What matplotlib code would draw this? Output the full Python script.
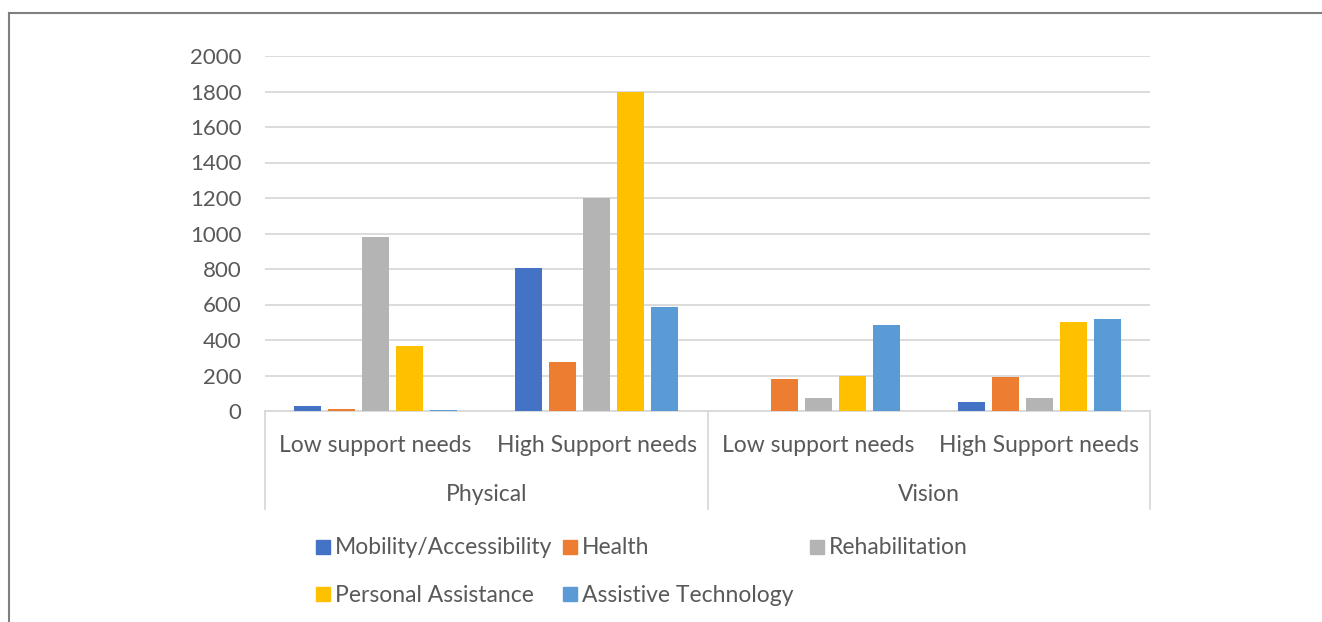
import matplotlib
matplotlib.use("Agg")
import matplotlib.pyplot as plt
from matplotlib.patches import Rectangle
from matplotlib.lines import Line2D
import numpy as np

groups = ["Physical", "Vision"]
subcats = ["Low support needs", "High Support needs", "Low support needs", "High Support needs"]
series = ["Mobility/Accessibility", "Health", "Rehabilitation", "Personal Assistance", "Assistive Technology"]
colors = ["#4472C4", "#ED7D31", "#B4B4B4", "#FFC000", "#5B9BD5"]
mobility = [28, 805, 0, 52]
health = [10, 276, 178, 193]
rehab = [980, 1200, 71, 71]
personal = [366, 1800, 200, 500]
assistive = [8, 586, 487, 518]
values = [mobility, health, rehab, personal, assistive]
yticks = [0, 200, 400, 600, 800, 1000, 1200, 1400, 1600, 1800, 2000]

plt.rcParams['font.family'] = ['Lato', 'DejaVu Sans']
txt = "#595959"
W, H = 1322, 622
fig = plt.figure(figsize=(W/100, H/100), dpi=100)

ax = fig.add_axes([265/W, 1-411/H, (1150-265)/W, (411-56)/H])
x = np.arange(len(subcats))
step = 34/221
bw = 27/221
for i, (vals, c) in enumerate(zip(values, colors)):
    ax.bar(x + (i-2)*step, vals, width=bw, color=c, zorder=3)
ax.set_xlim(-0.5, 3.5)
ax.set_ylim(0, 2000)
ax.set_yticks(yticks)
ax.set_yticklabels([str(v) for v in yticks], fontsize=16, color=txt)
ax.tick_params(axis='y', length=0, pad=17)
ax.set_xticks([])
ax.grid(axis='y', color="#D9D9D9", linewidth=1.3, zorder=0)
for s in ['top', 'right', 'left']:
    ax.spines[s].set_visible(False)
ax.spines['bottom'].set_color("#D9D9D9")
ax.spines['bottom'].set_linewidth(1.3)

# category labels
for xi, lab in zip(x, subcats):
    ax.text(xi, -0.096, lab, transform=ax.get_xaxis_transform(), ha='center', va='center',
            fontsize=16.5, color=txt)
for gi, g in enumerate(groups):
    ax.text(0.5 + 2*gi, -0.234, g, transform=ax.get_xaxis_transform(), ha='center', va='center',
            fontsize=16.5, color=txt)
for xb in [-0.5, 1.5, 3.5]:
    ax.plot([xb, xb], [0, -0.275], transform=ax.get_xaxis_transform(), color="#D9D9D9",
            linewidth=1.3, clip_on=False)

# frame
fig.add_artist(Line2D([9/W, 1], [1-13/H, 1-13/H], color="#7F7F7F", linewidth=1.5))
fig.add_artist(Line2D([9/W, 9/W], [0, 1-13/H], color="#7F7F7F", linewidth=1.5))

# legend
pos = [(316, 547), (563, 547), (810, 547), (316, 594), (563, 594)]
for (px, py), name, c in zip(pos, series, colors):
    fig.add_artist(Rectangle((px/W, 1-(py+7)/H), 14/W, 14/H, color=c))
    fig.text((px+19)/W, 1-(py+1)/H, name, ha='left', va='center', fontsize=16.5, color=txt)

fig.savefig("out.png", dpi=100, facecolor="white")
